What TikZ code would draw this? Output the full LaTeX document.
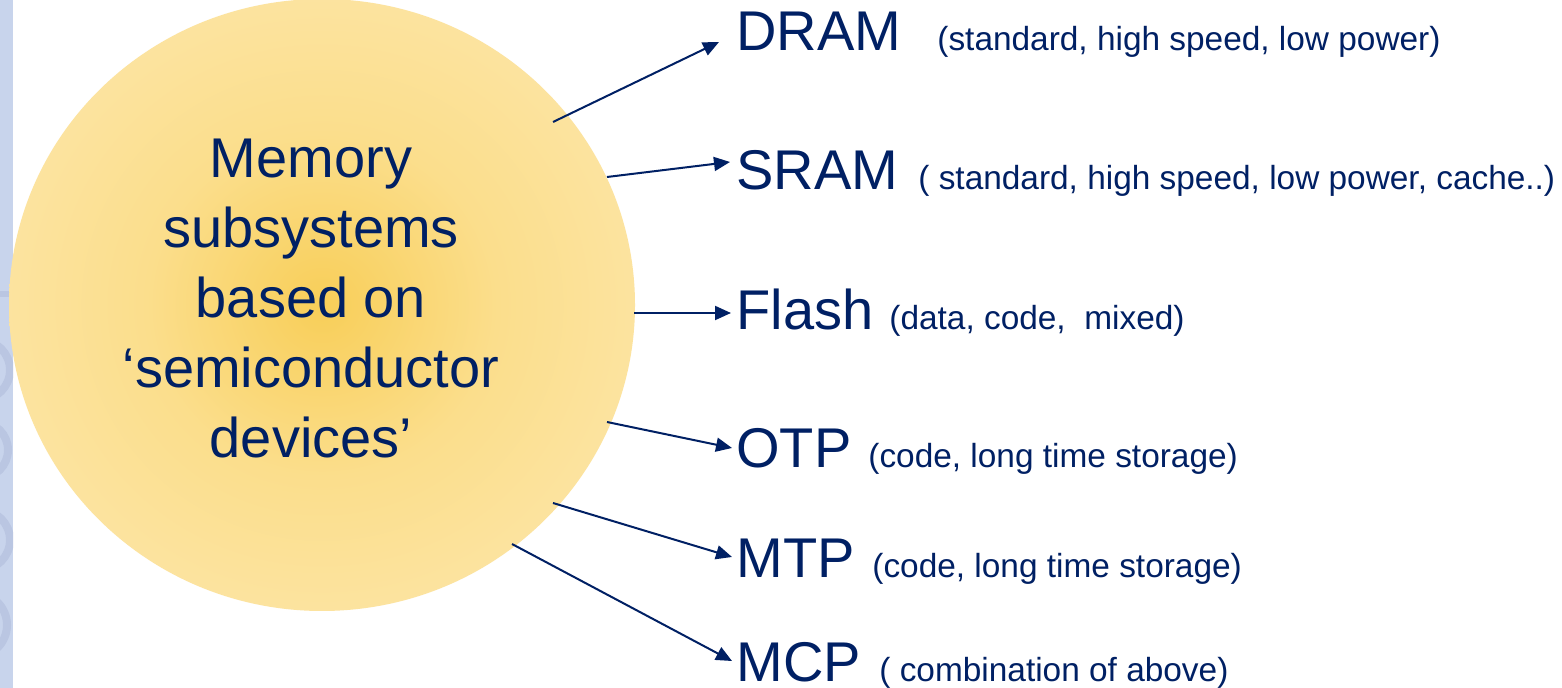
\documentclass[tikz,border=0pt]{standalone}
\usepackage{fontspec}
\setmainfont{Liberation Sans}
\usetikzlibrary{arrows.meta}
\definecolor{navy}{RGB}{0,32,100}
\definecolor{sunin}{RGB}{248,206,88}
\definecolor{sunmid}{RGB}{251,222,140}
\definecolor{sunout}{RGB}{253,232,176}
\definecolor{strip}{RGB}{200,212,236}
\definecolor{stripdark}{RGB}{186,198,226}
\pgfdeclareradialshading{sun}{\pgfpoint{0bp}{0bp}}{color(0bp)=(sunin); color(14bp)=(sunmid); color(35bp)=(sunout); color(50bp)=(sunout)}
\tikzset{
  big/.style={font=\fontsize{28}{32}\selectfont, text=navy, inner sep=0pt, anchor=base west},
  desc/.style={font=\fontsize{16.7}{20}\selectfont, text=navy, inner sep=0pt, anchor=base west},
  link/.style={draw=navy, line width=1pt, -{Triangle[length=8pt,width=7pt]}},
}
\begin{document}
\begin{tikzpicture}[x=0.5pt,y=-0.5pt]
\useasboundingbox (0,0) rectangle (1562,688);
\fill[white] (0,0) rectangle (1562,688);
% left strip
\fill[strip] (0,0) rectangle (13,688);
\begin{scope}
\clip (0,0) rectangle (13,688);
\fill[stripdark] (0,291) rectangle (13,297);
\draw[stripdark, line width=4pt] (-20,370) circle (30);
\draw[stripdark, line width=4pt] (-20,450) circle (28);
\draw[stripdark, line width=4pt] (-20,540) circle (30);
\draw[stripdark, line width=4pt] (-25,625) circle (32);
\end{scope}
% sun
\shade[shading=sun] (322,305) ellipse (156.5pt and 153pt);
\node[font=\fontsize{28}{35}\selectfont, text=navy, align=center, anchor=base, inner sep=0pt] (mem) at (311,458)
  {Memory\\subsystems\\based on\\‘semiconductor\\devices’};
% anchor points on the sun
\coordinate (s1) at (553,122);
\coordinate (s2) at (607,177);
\coordinate (s3) at (634,313);
\coordinate (s4) at (607,422);
\coordinate (s5) at (553,503);
\coordinate (s6) at (512,544);
% labels
\node[big] (dram) at (736,51) {DRAM};
\node[desc] (ddram) at (937,51) {(standard, high speed, low power)};
\node[big] (sram) at (736,190) {SRAM};
\node[desc] (dsram) at (918,190) {( standard, high speed, low power, cache..)};
\node[big] (flash) at (736,330) {Flash};
\node[desc] (dflash) at (889,330) {(data, code,\ \ mixed)};
\node[big] (otp) at (736,468) {OTP};
\node[desc] (dotp) at (868,468) {(code, long time storage)};
\node[big] (mtp) at (736,578) {MTP};
\node[desc] (dmtp) at (872,578) {(code, long time storage)};
\node[big] (mcp) at (736,682) {MCP};
\node[desc] (dmcp) at (879,682) {( combination of above)};
% connectors
\coordinate (t1) at (719,42);
\coordinate (t2) at (730,162);
\coordinate (t3) at (731,313);
\coordinate (t4) at (732,448);
\coordinate (t5) at (732,557);
\coordinate (t6) at (732,661);
\draw[link] (s1) -- (t1);
\draw[link] (s2) -- (t2);
\draw[link] (s3) -- (t3);
\draw[link] (s4) -- (t4);
\draw[link] (s5) -- (t5);
\draw[link] (s6) -- (t6);
\end{tikzpicture}
\end{document}
